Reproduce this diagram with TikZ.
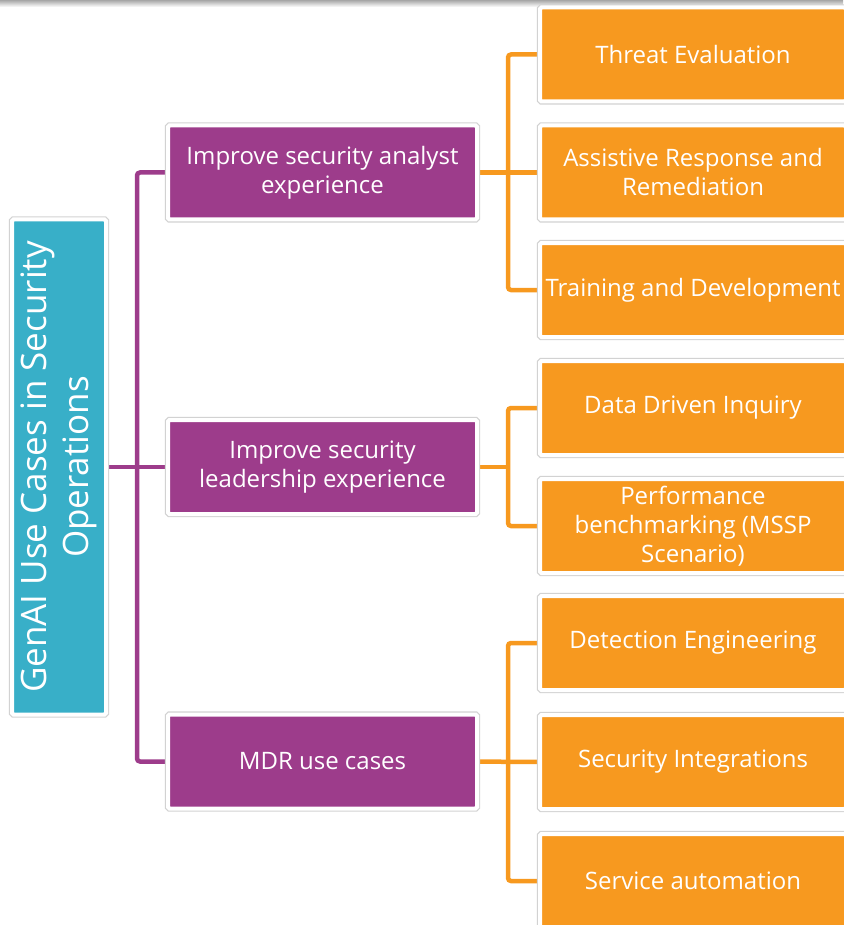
\documentclass[tikz,border=0pt]{standalone}
\usepackage{fontspec}
\setmainfont{Open Sans}
\usetikzlibrary{backgrounds}
\definecolor{genteal}{HTML}{38AFC8}
\definecolor{genpurple}{HTML}{9D3C8B}
\definecolor{genorange}{HTML}{F7991F}
\definecolor{framegray}{HTML}{D2D2D2}
\tikzset{x=0.5pt, y=-0.5pt,
    usecase/.style={inner sep=0pt, outer sep=0pt, text=white, align=center,
        draw=white, line width=2pt, rounded corners=0.75pt,
        preaction={draw=framegray, line width=3.2pt},
        font=\fontsize{12}{14.5}\selectfont},
    rootbox/.style={usecase, fill=genteal, minimum width=47pt, minimum height=247.5pt,
        font=\fontsize{17.5}{21}\selectfont},
    groupbox/.style={usecase, fill=genpurple, minimum width=154.5pt, minimum height=47pt},
    leafbox/.style={usecase, fill=genorange, minimum width=153pt, minimum height=47pt},
    plink/.style={draw=genpurple, line width=2.25pt, rounded corners=1.5pt},
    olink/.style={draw=genorange, line width=2.25pt, rounded corners=1.5pt},
    }

\begin{document}
\begin{tikzpicture}
	\useasboundingbox (0,0) rectangle (843,925);
	\node[rootbox] (root) at (59,467) {\rotatebox{90}{\begin{tabular}{@{}c@{}}GenAI Use Cases in Security\\Operations\end{tabular}}};
	% second level
	\node[groupbox] (analyst) at (322.5,172.5) {Improve security analyst\\experience};
	\node[groupbox] (leader) at (322.5,467) {Improve security\\leadership experience};
	\node[groupbox] (mdr) at (322.5,761.5) {MDR use cases};
	% leaves
	\node[leafbox] (threat) at (693,54.5) {Threat Evaluation};
	\node[leafbox] (assist) at (693,172.5) {Assistive Response and\\Remediation};
	\node[leafbox] (training) at (693,290) {Training and Development};
	\node[leafbox] (inquiry) at (693,408) {Data Driven Inquiry};
	\node[leafbox] (bench) at (693,526) {Performance\\benchmarking (MSSP\\Scenario)};
	\node[leafbox] (detect) at (693,643) {Detection Engineering};
	\node[leafbox] (integ) at (693,762) {Security Integrations};
	\node[leafbox] (service) at (693,881) {Service automation};
	\coordinate (gtrunk) at (137,467);
	\coordinate (atrunk) at (508,172.5);
	\coordinate (ltrunk) at (508,467);
	\coordinate (mtrunk) at (508,762);
	\begin{scope}[on background layer]
	\shade[top color=black!35, bottom color=white] (0,0) rectangle (843,7);
	\draw[plink] (root) -- (leader);
	\draw[plink] (analyst) -| (gtrunk) |- (mdr);
	\draw[olink] (analyst) -- (assist);
	\draw[olink] (threat) -| (atrunk) |- (training);
	\draw[olink] (leader) -- (ltrunk);
	\draw[olink] (inquiry) -| (ltrunk) |- (bench);
	\draw[olink] (mdr) -- (integ);
	\draw[olink] (detect) -| (mtrunk) |- (service);
	\end{scope}
\end{tikzpicture}
\end{document}
